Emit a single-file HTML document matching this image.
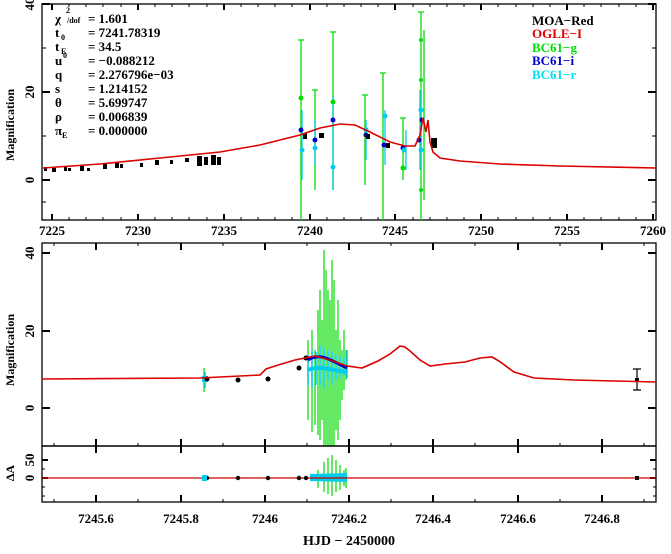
<!DOCTYPE html>
<html><head><meta charset="utf-8"><style>
body{margin:0;background:#fff}
svg text{font-family:"Liberation Serif",serif;font-weight:bold}
</style></head><body>
<svg width="671" height="549" xmlns="http://www.w3.org/2000/svg">
<rect width="671" height="549" fill="#fff"/>
<!-- TOP PANEL -->
<g stroke="#000" stroke-width="1.3" fill="none">
<rect x="42" y="4" width="614" height="216"/>
</g>
<g stroke="#000" stroke-width="2">
<path d="M52,4v6M138,4v6M224,4v6M310,4v6M395,4v6M481,4v6M567,4v6M653,4v6M52,220v-6M138,220v-6M224,220v-6M310,220v-6M395,220v-6M481,220v-6M567,220v-6M653,220v-6"/>
<path d="M42,4h8M42,92h8M42,180h8M656,4h-8M656,92h-8M656,180h-8"/>
</g>
<g stroke="#000" stroke-width="1">
<path d="M69,4v3M86,4v3M103,4v3M121,4v3M155,4v3M172,4v3M189,4v3M207,4v3M241,4v3M258,4v3M275,4v3M292,4v3M327,4v3M344,4v3M361,4v3M378,4v3M413,4v3M430,4v3M447,4v3M464,4v3M498,4v3M516,4v3M533,4v3M550,4v3M584,4v3M601,4v3M619,4v3M636,4v3"/>
<path d="M69,220v-3M86,220v-3M103,220v-3M121,220v-3M155,220v-3M172,220v-3M189,220v-3M207,220v-3M241,220v-3M258,220v-3M275,220v-3M292,220v-3M327,220v-3M344,220v-3M361,220v-3M378,220v-3M413,220v-3M430,220v-3M447,220v-3M464,220v-3M498,220v-3M516,220v-3M533,220v-3M550,220v-3M584,220v-3M601,220v-3M619,220v-3M636,220v-3"/>
<path d="M42,48h4M42,136h4M42,202h4M656,48h-4M656,136h-4M656,202h-4"/>
</g>
<g font-size="13" text-anchor="middle" fill="#000">
<text x="52" y="235">7225</text><text x="138" y="235">7230</text><text x="224" y="235">7235</text><text x="310" y="235">7240</text><text x="395" y="235">7245</text><text x="481" y="235">7250</text><text x="567" y="235">7255</text><text x="653" y="235">7260</text>
<text transform="translate(34,4) rotate(-90)">40</text>
<text transform="translate(34,92) rotate(-90)">20</text>
<text transform="translate(34,180) rotate(-90)">0</text>
<text transform="translate(14,125) rotate(-90)" font-size="12">Magnification</text>
</g>
<g font-size="13" fill="#000">
<text x="55" y="23">χ</text><text x="66" y="13" font-size="8">2</text><text x="67" y="23" font-size="8">/dof</text><text x="88" y="23">= 1.601</text>
<text x="55" y="37">t</text><text x="61" y="40" font-size="8">0</text><text x="88" y="37">= 7241.78319</text>
<text x="55" y="51">t</text><text x="61" y="54" font-size="8">E</text><text x="88" y="51">= 34.5</text>
<text x="55" y="65">u</text><text x="63" y="58" font-size="8">0</text><text x="88" y="65">= −0.088212</text>
<text x="55" y="79">q</text><text x="88" y="79">= 2.276796e−03</text>
<text x="55" y="93">s</text><text x="88" y="93">= 1.214152</text>
<text x="55" y="107">θ</text><text x="88" y="107">= 5.699747</text>
<text x="55" y="121">ρ</text><text x="88" y="121">= 0.006839</text>
<text x="55" y="135">π</text><text x="62" y="138" font-size="8">E</text><text x="88" y="135">= 0.000000</text>
<text x="532" y="25" fill="#000">MOA−Red</text>
<text x="532" y="38" fill="#e00000">OGLE−I</text>
<text x="532" y="52" fill="#00e000">BC61−g</text>
<text x="532" y="65" fill="#0000d0">BC61−i</text>
<text x="532" y="79" fill="#00e0f0">BC61−r</text>
</g>
<!-- top data -->
<g stroke="#00dd00" stroke-width="1.3">
<path d="M301,40V220M298,40h6M315,90V190M312,90h6M333,32V190M330,32h6M365,95V185M362,95h6M383,73V220M380,73h6M403,118V180M400,118h6M421,12V220M418,12h6M424,30V200"/>
</g>
<g stroke="#00ccee" stroke-width="1.3"><path d="M302,110V180M315,120V165M333,97V190M366,120V160M385,110V165M406,130V170M420,90V170"/></g>
<g fill="#0000cc"><circle cx="301" cy="130" r="2.5"/><circle cx="315" cy="140" r="2.5"/><circle cx="333" cy="120" r="2.5"/><circle cx="366" cy="135" r="2.5"/><circle cx="384" cy="145" r="2.5"/><circle cx="403" cy="148" r="2.5"/><circle cx="419" cy="140" r="2.5"/><circle cx="422" cy="120" r="2.5"/></g>
<g fill="#00ccee"><circle cx="302" cy="150" r="2.5"/><circle cx="315" cy="148" r="2.5"/><circle cx="333" cy="167" r="2.5"/><circle cx="366" cy="130" r="2.5"/><circle cx="385" cy="116" r="2.5"/><circle cx="404" cy="150" r="2.5"/><circle cx="421" cy="110" r="2.5"/><circle cx="421" cy="150" r="2.5"/></g>
<g fill="#00dd00"><circle cx="301" cy="98" r="2.5"/><circle cx="333" cy="102" r="2.5"/><circle cx="403" cy="168" r="2.5"/><circle cx="421" cy="40" r="2"/><circle cx="421" cy="80" r="2"/><circle cx="421" cy="190" r="2"/></g>
<g fill="#000">
<rect x="44" y="167" width="3" height="4"/><rect x="52" y="168" width="4" height="4"/><rect x="64" y="167" width="3" height="4"/><rect x="68" y="168" width="3" height="3"/><rect x="80" y="166" width="4" height="5"/><rect x="87" y="168" width="3" height="3"/><rect x="103" y="164" width="4" height="5"/><rect x="115" y="163" width="4" height="5"/><rect x="120" y="164" width="3" height="4"/><rect x="140" y="163" width="3" height="4"/><rect x="155" y="160" width="4" height="5"/><rect x="170" y="160" width="3" height="4"/><rect x="197" y="156" width="5" height="10"/><rect x="204" y="157" width="4" height="8"/><rect x="211" y="155" width="5" height="10"/><rect x="217" y="157" width="4" height="8"/><rect x="303" y="133" width="4" height="6"/><rect x="319" y="133" width="5" height="5"/><rect x="366" y="134" width="4" height="5"/><rect x="386" y="143" width="4" height="5"/><rect x="431" y="138" width="6" height="10"/>
<rect x="185" y="158" width="4" height="4"/>
</g>
<path d="M43,168 L100,164 L160,158 L220,152 L260,145 L300,135 L320,128 L340,124 L355,125 L370,132 L390,142 L405,146 L415,146 L420,135 L423,118 L426,132 L428,120 L430,142 L433,152 L440,158 L460,161 L500,164 L560,166 L656,168" stroke="#dd0000" stroke-width="1.6" fill="none"/>

<!-- MIDDLE PANEL -->
<rect x="42" y="243" width="614" height="203" fill="none" stroke="#000" stroke-width="1.3"/>
<g stroke="#000" stroke-width="2">
<path d="M96,446v-7M181,446v-7M265,446v-7M349,446v-7M433,446v-7M518,446v-7M602,446v-7M96,243v7M181,243v7M265,243v7M349,243v7M433,243v7M518,243v7M602,243v7"/>
<path d="M42,253h8M42,331h8M42,408h8M656,253h-8M656,331h-8M656,408h-8"/>
</g>
<g stroke="#000" stroke-width="1"><path d="M54,446v-3M138,446v-3M223,446v-3M307,446v-3M391,446v-3M475,446v-3M560,446v-3M644,446v-3M54,243v3M138,243v3M223,243v3M307,243v3M391,243v3M475,243v3M560,243v3M644,243v3"/></g>
<g font-size="13" text-anchor="middle" fill="#000">
<text transform="translate(34,253) rotate(-90)">40</text>
<text transform="translate(34,331) rotate(-90)">20</text>
<text transform="translate(34,408) rotate(-90)">0</text>
<text transform="translate(14,350) rotate(-90)" font-size="12">Magnification</text>
</g>
<g stroke="#00dd00" stroke-width="1.2">
<path d="M204,368V392M308,340V420M312,330V432M315,350V425M318,310V435M320,290V440M322,320V420M324,250V446M326,270V446M328,290V446M330,300V446M332,260V446M334,280V446M336,330V430M338,300V440M340,340V420M342,350V400M344,330V390M346,350V380"/>
</g>
<g stroke="#00ccee" stroke-width="1.5"><path d="M205,372V388M308,355V385M312,350V388M316,352V385M320,345V385M324,348V388M328,350V380M332,352V385M336,355V380M340,355V378M344,358V375M347,350V378"/></g>
<g fill="#00ccee"><rect x="202" y="376" width="6" height="6"/></g>
<path d="M308,360 C320,352 330,360 347,368" stroke="#0000cc" stroke-width="3" fill="none"/>
<path d="M308,370 C320,365 330,370 347,372" stroke="#00ccee" stroke-width="4" fill="none"/>
<g fill="#000"><circle cx="207" cy="379" r="2.5"/><circle cx="238" cy="380" r="2.5"/><circle cx="268" cy="379" r="2.5"/><circle cx="299" cy="368" r="2.5"/><circle cx="306" cy="358" r="2.5"/><rect x="635" y="378" width="4" height="4"/></g>
<path d="M637,369V390M633,369h8M633,390h8" stroke="#000" stroke-width="1.2"/>
<path d="M42,379 L200,378 L260,375 L266,369 L275,366 L285,363 L295,360 L305,358 L315,356 L330,360 L347,366 L362,368 L378,361 L390,354 L400,346 L405,347 L410,351 L420,360 L430,366 L445,364 L465,362 L480,358 L492,357 L499,361 L514,372 L534,378 L574,380 L656,382" stroke="#dd0000" stroke-width="1.6" fill="none"/>

<!-- BOTTOM PANEL -->
<rect x="42" y="446" width="614" height="56" fill="none" stroke="#000" stroke-width="1.3"/>
<g stroke="#000" stroke-width="2"><path d="M96,502v-7M181,502v-7M265,502v-7M349,502v-7M433,502v-7M518,502v-7M602,502v-7M96,446v7M181,446v7M265,446v7M349,446v7M433,446v7M518,446v7M602,446v7M42,460h6M42,478h6M656,460h-6M656,478h-6"/></g>
<g stroke="#000" stroke-width="1"><path d="M54,502v-3M138,502v-3M223,502v-3M307,502v-3M391,502v-3M475,502v-3M560,502v-3M644,502v-3M42,469h3M42,487h3M42,496h3M656,469h-3M656,487h-3M656,496h-3"/></g>
<g font-size="13" text-anchor="middle" fill="#000">
<text transform="translate(34,460) rotate(-90)">50</text>
<text transform="translate(34,478) rotate(-90)">0</text>
<text transform="translate(14,473) rotate(-90)" font-size="12">ΔA</text>
<text x="96" y="523">7245.6</text><text x="181" y="523">7245.8</text><text x="265" y="523">7246</text><text x="349" y="523">7246.2</text><text x="433" y="523">7246.4</text><text x="518" y="523">7246.6</text><text x="602" y="523">7246.8</text>
<text x="349" y="545" font-weight="normal" font-size="14">HJD − 2450000</text>
</g>
<g stroke="#00dd00" stroke-width="1.2"><path d="M318,470V488M324,462V492M328,458V494M332,455V496M336,460V492M340,465V490M344,470V486M346,468V488"/></g>
<path d="M310,474L347,473L347,482L310,481Z" fill="#00ccee"/>
<line x1="42" y1="478" x2="656" y2="478" stroke="#cc0000" stroke-width="1.3"/>
<g fill="#000"><circle cx="207" cy="478" r="2.2"/><circle cx="238" cy="478" r="2.2"/><circle cx="268" cy="478" r="2.2"/><circle cx="299" cy="478" r="2.2"/><circle cx="306" cy="478" r="2.2"/><rect x="635" y="476" width="4" height="4"/></g>
<rect x="202" y="475" width="5" height="6" fill="#00ccee"/>
</svg>
</body></html>
